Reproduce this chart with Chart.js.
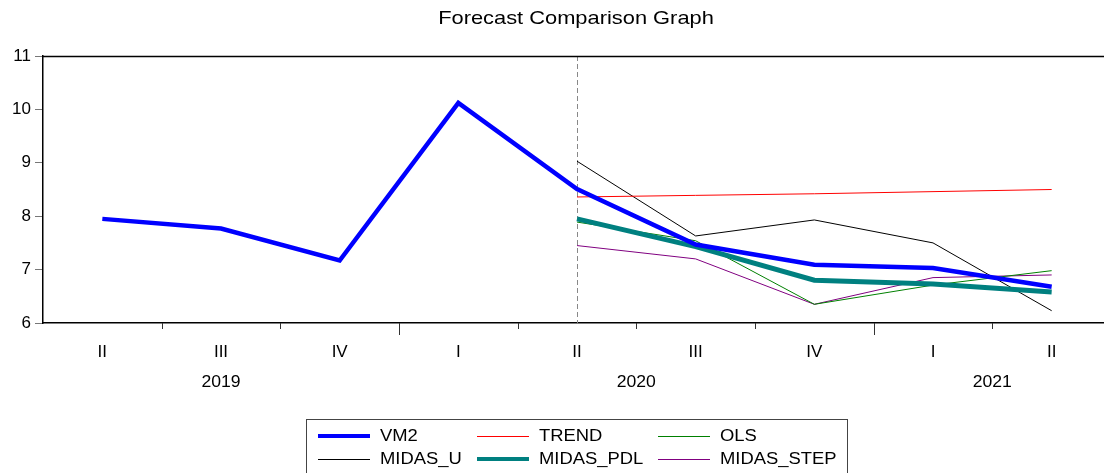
<!DOCTYPE html>
<html>
<head>
<meta charset="utf-8">
<script src="https://cdn.jsdelivr.net/npm/chart.js@4/dist/chart.umd.min.js"></script>
<style>
  html, body { margin: 0; background: #fff; overflow: hidden; font-family: "Liberation Sans", Arial, sans-serif; }
  #wrap { position: relative; width: 1104px; height: 473px; overflow: hidden; }
  #chart { position: absolute; left: 0; top: 0; }
  #legend {
    position: absolute; left: 306px; top: 419px; width: 542px; height: 70px;
    border: 1px solid #444; box-sizing: border-box; font-size: 16px; color: #000;
  }
  .item { position: absolute; height: 20px; }
  .item .ln { position: absolute; left: 0; width: 52px; }
  .item .tx { position: absolute; left: 62px; top: 0; line-height: 20px; white-space: nowrap;
              transform: scaleX(1.15); transform-origin: left center; }
</style>
</head>
<body>
<div id="wrap">
  <canvas id="chart" width="1120" height="473"></canvas>
  <div id="legend"></div>
</div>
<script>
// quarters and their years
const quarters = ["II", "III", "IV", "I", "II", "III", "IV", "I", "II"]
const years = [2019, 2019, 2019, 2020, 2020, 2020, 2020, 2021, 2021]

// actual series and forecasts (forecasts start at 2020 II)
const vm2 = [7.95, 7.77, 7.17, 10.12, 8.51, 7.47, 7.09, 7.03, 6.68]
const trend = [null, null, null, null, 8.36, 8.39, 8.42, 8.46, 8.50]
const ols = [null, null, null, null, 7.89, 7.54, 6.35, 6.71, 6.98]
const midasU = [null, null, null, null, 9.03, 7.63, 7.93, 7.50, 6.23]
const midasPdl = [null, null, null, null, 7.95, 7.43, 6.80, 6.73, 6.58]
const midasStep = [null, null, null, null, 7.45, 7.20, 6.35, 6.85, 6.90]

const forecastStart = 4

const series = [
  { label: "VM2", data: vm2, color: "#0000ff", width: 4.5 },
  { label: "TREND", data: trend, color: "#ff0000", width: 1 },
  { label: "OLS", data: ols, color: "#008000", width: 1 },
  { label: "MIDAS_U", data: midasU, color: "#000000", width: 1 },
  { label: "MIDAS_PDL", data: midasPdl, color: "#008080", width: 5 },
  { label: "MIDAS_STEP", data: midasStep, color: "#800080", width: 1 }
]

// thick lines are drawn on top
const drawOrder = { VM2: 2, MIDAS_PDL: 1 }

const FONT = "'Liberation Sans', Arial, sans-serif"

function wideText(ctx, text, x, y, sx) {
  ctx.save()
  ctx.translate(x, y)
  ctx.scale(sx, 1)
  ctx.fillText(text, 0, 0)
  ctx.restore()
}

const overlay = {
  id: "overlay",
  beforeDatasetsDraw(chart) {
    const { ctx, chartArea: a, scales: { x } } = chart
    const px = Math.round(x.getPixelForValue(forecastStart)) + 0.5
    ctx.save()
    ctx.strokeStyle = "#888"
    ctx.lineWidth = 1
    ctx.setLineDash([5, 3])
    ctx.beginPath()
    ctx.moveTo(px, a.top)
    ctx.lineTo(px, a.bottom)
    ctx.stroke()
    ctx.restore()
  },
  afterDraw(chart) {
    const { ctx, chartArea: a, scales: { x } } = chart
    ctx.save()
    // frame top and right
    ctx.strokeStyle = "#000"
    ctx.lineWidth = 1.5
    ctx.beginPath()
    ctx.moveTo(a.left, a.top + 0.5)
    ctx.lineTo(a.right - 0.5, a.top + 0.5)
    ctx.lineTo(a.right - 0.5, a.bottom)
    ctx.stroke()

    // tick marks between quarters, longer at year change
    ctx.strokeStyle = "#333"
    ctx.lineWidth = 1
    for (let i = 0; i < quarters.length - 1; i++) {
      const tx = Math.round((x.getPixelForValue(i) + x.getPixelForValue(i + 1)) / 2) + 0.5
      const len = years[i] !== years[i + 1] ? 12 : 6
      ctx.beginPath()
      ctx.moveTo(tx, a.bottom)
      ctx.lineTo(tx, a.bottom + len)
      ctx.stroke()
    }

    // year labels centred under their quarters
    ctx.fillStyle = "#000"
    ctx.font = "16px " + FONT
    ctx.textAlign = "center"
    ctx.textBaseline = "middle"
    const uniq = [...new Set(years)]
    uniq.forEach(yr => {
      const idx = years.map((v, i) => v === yr ? i : -1).filter(i => i >= 0)
      const first = x.getPixelForValue(idx[0])
      const last = x.getPixelForValue(idx[idx.length - 1])
      wideText(ctx, String(yr), (first + last) / 2, a.bottom + 60, 1.1)
    })

    // title
    ctx.font = "19px " + FONT
    wideText(ctx, "Forecast Comparison Graph", 576, 19, 1.15)
    ctx.restore()
  }
}

const datasets = series.map(s => ({
  label: s.label,
  data: s.data,
  borderColor: s.color,
  backgroundColor: s.color,
  borderWidth: s.width,
  pointRadius: 0,
  pointHoverRadius: 0,
  tension: 0,
  fill: false,
  spanGaps: false,
  order: -(drawOrder[s.label] || 0)
}))

new Chart(document.getElementById("chart"), {
  type: "line",
  data: { labels: quarters, datasets: datasets },
  options: {
    responsive: false,
    animation: false,
    layout: { padding: { top: 56, right: 9, left: 0, bottom: 0 } },
    plugins: {
      legend: { display: false },
      tooltip: { enabled: false },
      title: { display: false }
    },
    scales: {
      x: {
        offset: true,
        grid: { display: false },
        border: { color: "#000", width: 1.5 },
        ticks: {
          color: "#000",
          padding: 11,
          maxRotation: 0,
          autoSkip: false,
          font: { family: FONT, size: 17 }
        },
        afterFit(scale) { scale.height = 150 }
      },
      y: {
        min: 6,
        max: 11,
        ticks: {
          stepSize: 1,
          color: "#000",
          padding: 4,
          font: { family: FONT, size: 17 }
        },
        grid: { drawOnChartArea: false, tickLength: 8, color: "#777" },
        border: { color: "#000", width: 1.5 },
        afterFit(scale) { scale.width = 43 }
      }
    }
  },
  plugins: [overlay]
})

// legend, laid out like the EViews box
const legendPos = [
  [11, 6], [170, 6], [351, 6],
  [11, 29], [170, 29], [351, 29]
]
const legendOrder = ["VM2", "TREND", "OLS", "MIDAS_U", "MIDAS_PDL", "MIDAS_STEP"]
const legendEl = document.getElementById("legend")
legendOrder.forEach((name, i) => {
  const s = series.find(d => d.label === name)
  const h = s.width > 1 ? 4 : 1
  const item = document.createElement("div")
  item.className = "item"
  item.style.left = legendPos[i][0] + "px"
  item.style.top = legendPos[i][1] + "px"
  const ln = document.createElement("div")
  ln.className = "ln"
  ln.style.height = h + "px"
  ln.style.top = (10 - h / 2) + "px"
  ln.style.background = s.color
  const tx = document.createElement("div")
  tx.className = "tx"
  tx.textContent = s.label
  item.appendChild(ln)
  item.appendChild(tx)
  legendEl.appendChild(item)
})
</script>
</body>
</html>
